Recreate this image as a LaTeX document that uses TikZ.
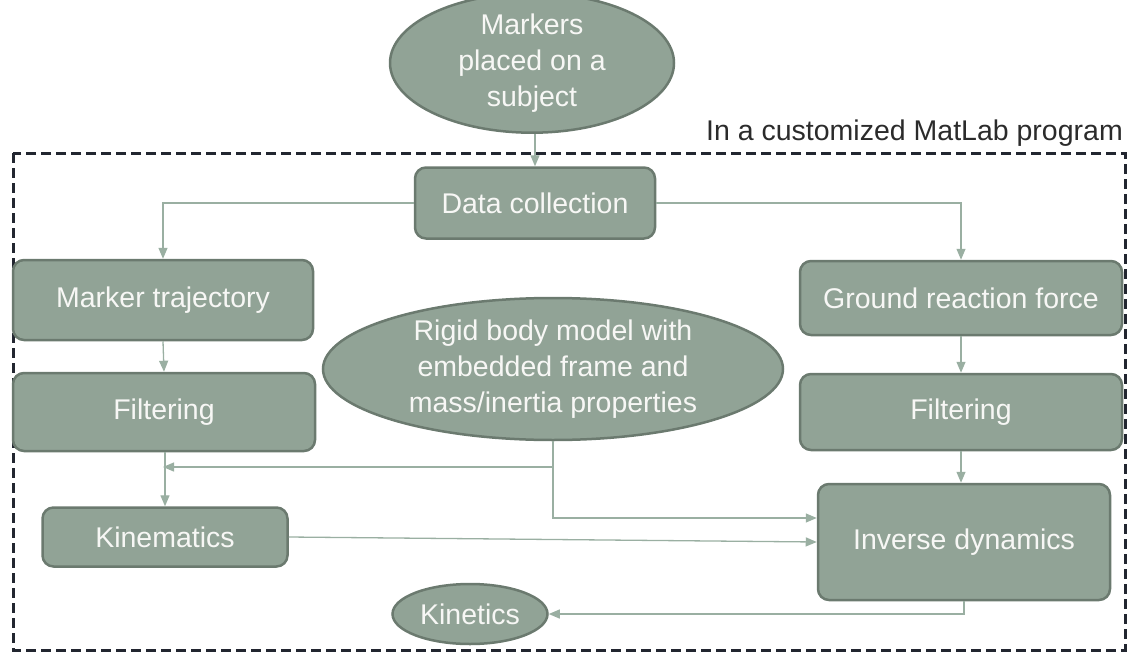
\documentclass[tikz,border=0pt]{standalone}
\usepackage{fontspec}
\setmainfont{Liberation Sans}
\usetikzlibrary{arrows.meta,shapes.geometric}
\definecolor{boxfill}{HTML}{91A396}
\definecolor{boxline}{HTML}{6B7A6F}
\definecolor{conncol}{HTML}{9AAFA2}
\definecolor{txtcol}{HTML}{F7F7F5}
\definecolor{lblcol}{HTML}{2B2B2B}
\definecolor{framecol}{HTML}{222630}
\tikzset{
  base/.style={fill=boxfill, draw=boxline, line width=2.5pt, text=txtcol, align=center,
    font=\fontsize{28.5}{36}\selectfont, inner sep=0pt},
  rbox/.style={base, rectangle, rounded corners=11pt, minimum width=#1},
  oval/.style={base, ellipse},
  conn/.style={draw=conncol, line width=1.3pt, -{Triangle[length=11pt,width=9pt,fill=conncol]}},
  plain/.style={draw=conncol, line width=1.3pt},
}
\begin{document}
\begin{tikzpicture}[x=1pt,y=-1pt]
\useasboundingbox (0,0) rectangle (1130,653);
% dashed frame
\draw[draw=framecol, line width=3pt, dash pattern=on 10pt off 5pt] (13,153) rectangle (1125,650);
\node[anchor=base east, text=lblcol, font=\fontsize{28.5}{33}\selectfont, inner sep=0pt] (lab) at (1123,140) {In a customized MatLab program};

\node[oval, minimum width=284pt, minimum height=118pt] (mark) at (532,63) {Markers\\placed on a\\subject};
\node[rbox=240pt, minimum height=71pt] (data) at (535,203) {Data collection};
\node[rbox=300pt, minimum height=80pt] (traj) at (163,300) {Marker trajectory};
\node[rbox=302pt, minimum height=78pt] (filtL) at (164,412) {Filtering};
\node[rbox=245pt, minimum height=59pt] (kin) at (165,537) {Kinematics};
\node[oval, minimum width=460pt, minimum height=142pt] (rigid) at (553,369) {Rigid body model with\\embedded frame and\\mass/inertia properties};
\node[rbox=322pt, minimum height=74pt] (grf) at (961,298) {Ground reaction force};
\node[rbox=322pt, minimum height=76pt] (filtR) at (961,412) {Filtering};
\node[rbox=292pt, minimum height=116pt] (inv) at (964,542) {Inverse dynamics};
\node[oval, minimum width=155pt, minimum height=60pt] (kinet) at (470,614) {Kinetics};

\coordinate (jL) at (163,467);
\coordinate (jR) at (553,467);

\draw[conn] (mark.south -| data.north) -- (data.north);
\draw[conn] (data.west) -| (traj.north);
\draw[conn] (data.east) -| (grf.north);
\draw[conn] (traj.south) -- (filtL.north);
\draw[conn] (filtL.south -| kin.north) -- (kin.north);
\draw[plain] (rigid.south) -- (jR);
\draw[conn] (jR) -- (jL);
\draw[conn] (jR) |- ([yshift=24pt]inv.west);
\draw[conn] (kin.east) -- (inv.west);
\draw[conn] (grf.south) -- (filtR.north);
\draw[conn] (filtR.south) -- (filtR.south |- inv.north);
\draw[conn] (inv.south) |- (kinet.east);
\end{tikzpicture}
\end{document}
